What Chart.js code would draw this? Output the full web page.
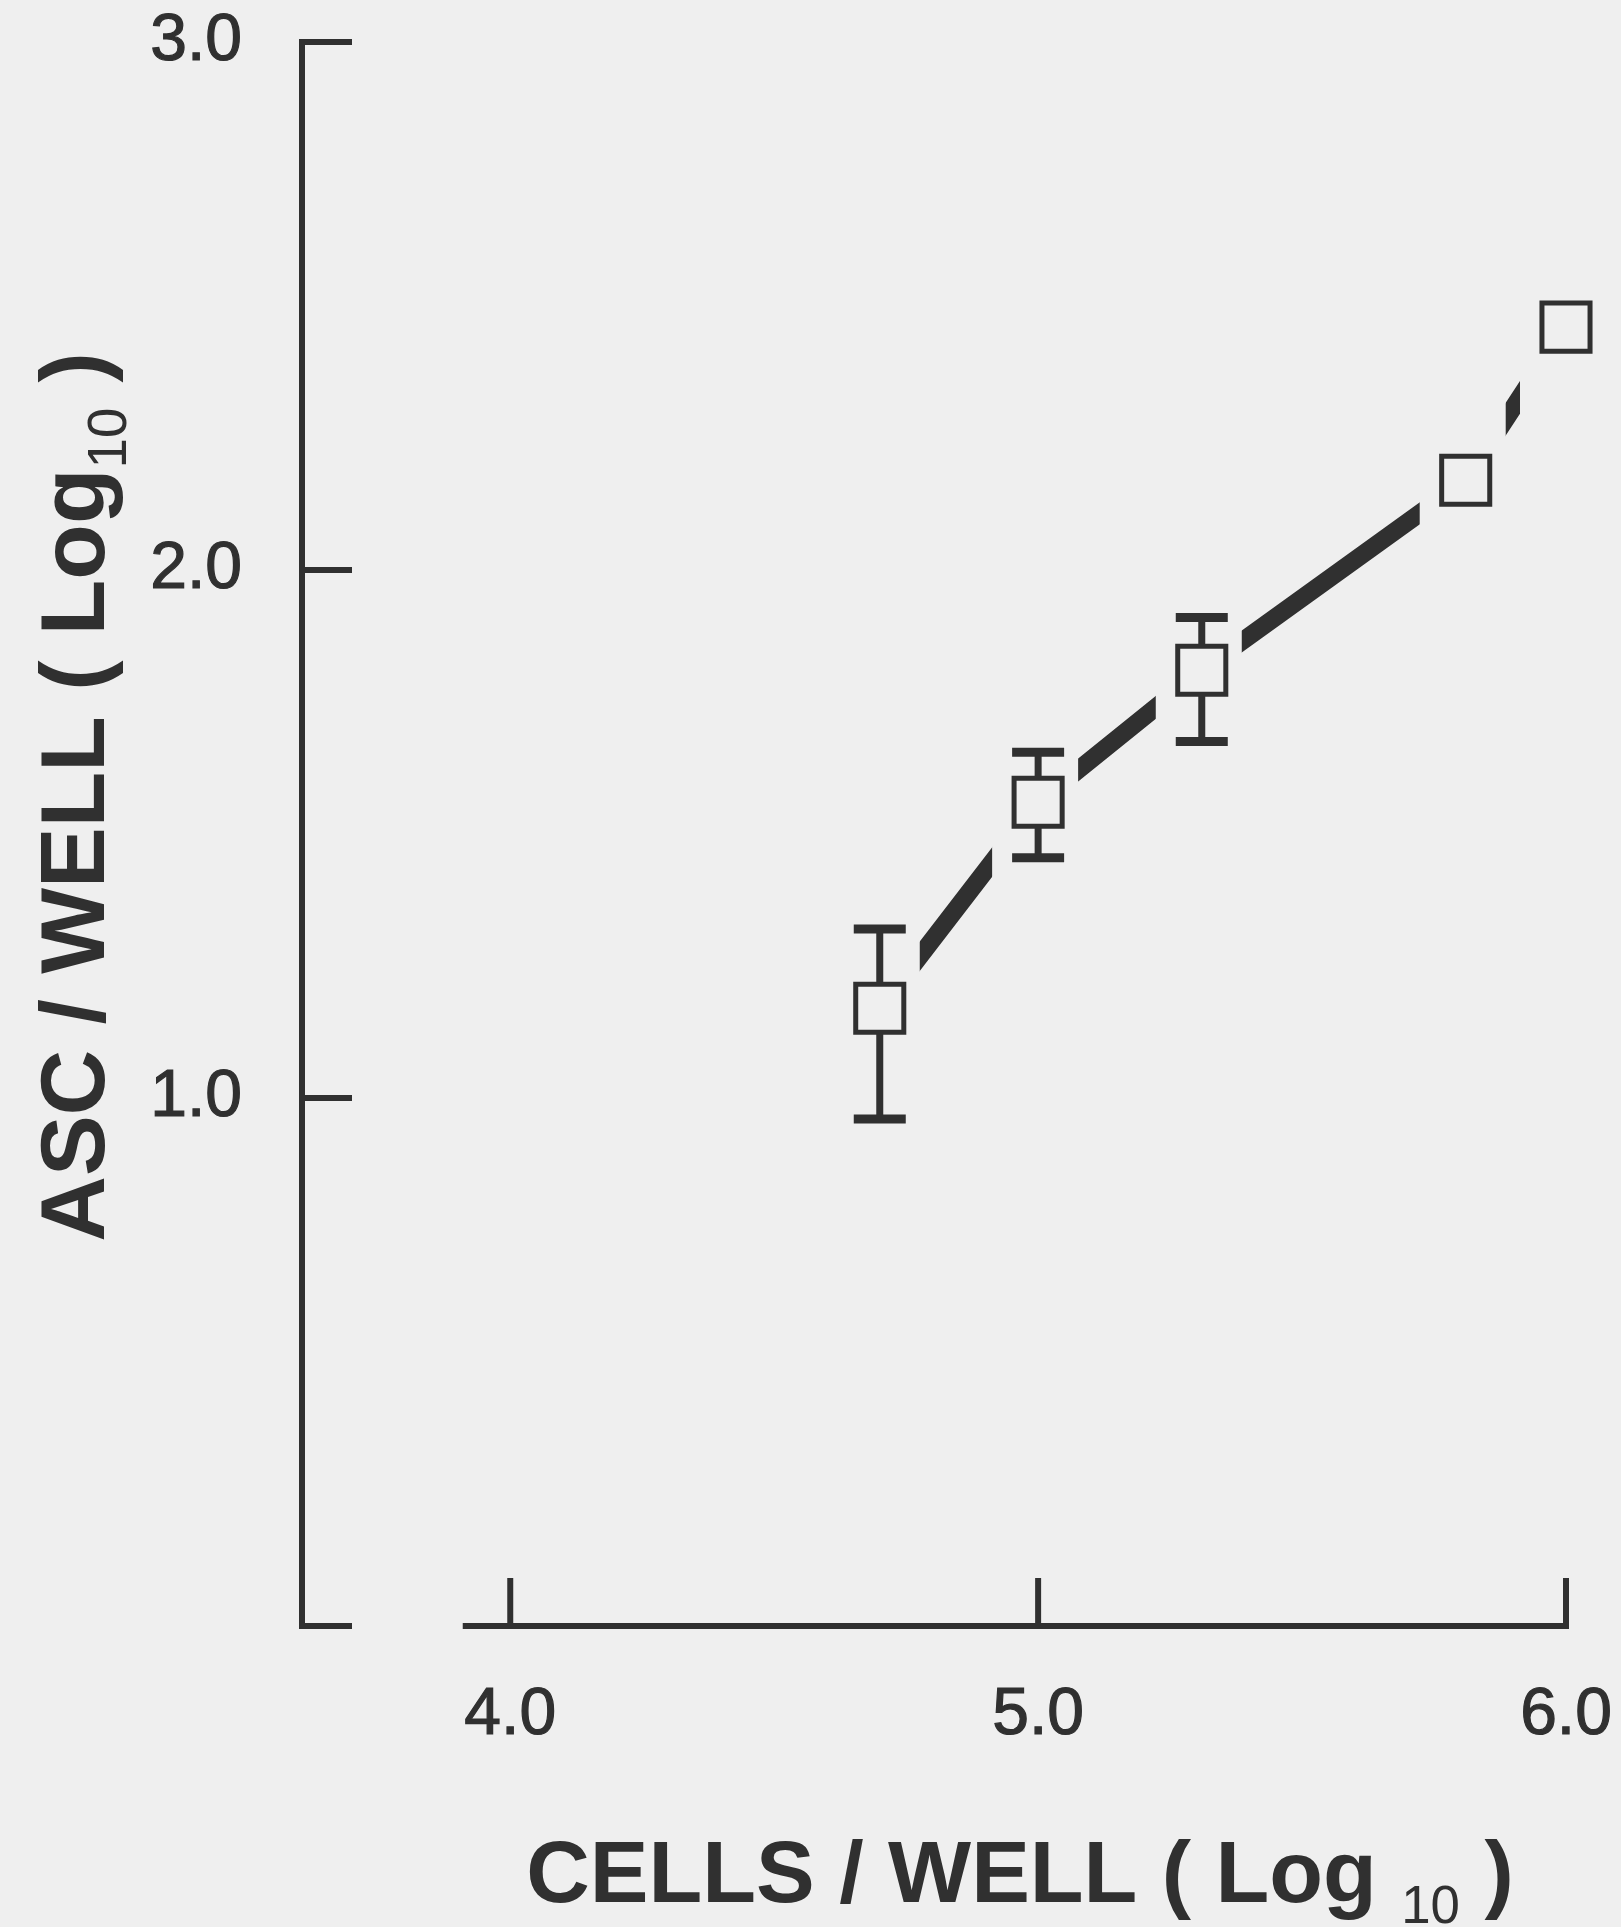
<!DOCTYPE html>
<html>
<head>
<meta charset="utf-8">
<title>ASC / well vs cells / well</title>
<script src="https://cdn.jsdelivr.net/npm/chart.js@4.4.1/dist/chart.umd.min.js"></script>
<style>
  html, body { margin: 0; padding: 0; background: #efefef; }
  #wrap { width: 1621px; height: 1927px; }
</style>
</head>
<body>
<div id="wrap"><canvas id="chart"></canvas></div>
<script>
// data (log10 values)
const cellsLog = [4.70, 5.00, 5.31, 5.81, 6.00];
const ascLog = [1.17, 1.56, 1.81, 2.17, 2.46];
const ascHigh = [1.32, 1.655, 1.91, null, null];
const ascLow = [0.96, 1.455, 1.675, null, null];
const xTicks = [4, 5, 6];
const yTicks = [0, 1, 2, 3];
const xAxisFrom = 3.91;

const INK = '#303030';
const PAPER = '#efefef';
const FONT = '"Liberation Sans", Arial, Helvetica, sans-serif';

const points = cellsLog.map((x, i) => ({ x, y: ascLog[i] }));

// cut the connecting line around each marker
const lineGaps = {
  id: 'lineGaps',
  beforeDatasetDraw(chart, args) {
    if (args.index !== 0) return;
    const { ctx, width, height } = chart;
    const xs = chart.scales.x;
    ctx.save();
    ctx.beginPath();
    ctx.rect(0, 0, width, height);
    cellsLog.forEach((v) => {
      const px = xs.getPixelForValue(v);
      ctx.rect(px - 46, 0, 86, height);
    });
    ctx.clip('evenodd');
  },
  afterDatasetDraw(chart, args) {
    if (args.index === 0) chart.ctx.restore();
  }
};

// axes in the paper style: ticks point inward, x axis starts short of the y axis
const paperAxes = {
  id: 'paperAxes',
  beforeDatasetsDraw(chart) {
    const { ctx } = chart;
    const xs = chart.scales.x, ys = chart.scales.y;
    const left = chart.chartArea.left;
    const y0 = ys.getPixelForValue(0);
    ctx.save();
    ctx.strokeStyle = INK;
    ctx.lineWidth = 6;
    ctx.lineJoin = 'miter';
    ctx.lineCap = 'butt';
    ctx.beginPath();
    ctx.moveTo(left + 50, ys.getPixelForValue(3));
    ctx.lineTo(left, ys.getPixelForValue(3));
    ctx.lineTo(left, y0);
    ctx.lineTo(left + 50, y0);
    ctx.stroke();
    yTicks.slice(1, -1).forEach((v) => {
      const py = ys.getPixelForValue(v);
      ctx.beginPath(); ctx.moveTo(left, py); ctx.lineTo(left + 50, py); ctx.stroke();
    });
    const xEnd = xs.getPixelForValue(xTicks[xTicks.length - 1]);
    ctx.beginPath();
    ctx.moveTo(xs.getPixelForValue(xAxisFrom), y0);
    ctx.lineTo(xEnd, y0);
    ctx.lineTo(xEnd, y0 - 48);
    ctx.stroke();
    xTicks.slice(0, -1).forEach((v) => {
      const px = xs.getPixelForValue(v);
      ctx.beginPath(); ctx.moveTo(px, y0); ctx.lineTo(px, y0 - 48); ctx.stroke();
    });
    ctx.restore();
  }
};

// error bars behind the open squares
const errorBars = {
  id: 'errorBars',
  beforeDatasetDraw(chart, args) {
    if (args.index !== 1) return;
    const { ctx } = chart;
    const xs = chart.scales.x, ys = chart.scales.y;
    ctx.save();
    ctx.strokeStyle = INK;
    ctx.lineCap = 'butt';
    cellsLog.forEach((v, i) => {
      if (ascHigh[i] == null) return;
      const px = xs.getPixelForValue(v);
      const hi = ys.getPixelForValue(ascHigh[i]);
      const lo = ys.getPixelForValue(ascLow[i]);
      ctx.lineWidth = 7;
      ctx.beginPath(); ctx.moveTo(px, hi); ctx.lineTo(px, lo); ctx.stroke();
      ctx.lineWidth = 9;
      ctx.beginPath();
      ctx.moveTo(px - 26, hi); ctx.lineTo(px + 26, hi);
      ctx.moveTo(px - 26, lo); ctx.lineTo(px + 26, lo);
      ctx.stroke();
    });
    ctx.restore();
  }
};

function drawRich(ctx, parts, size, cx, baseline) {
  const subSize = size * 0.6;
  const fontFor = (sub) => (sub ? `${subSize}px ${FONT}` : `bold ${size}px ${FONT}`);
  const widths = parts.map(([t, sub]) => {
    ctx.font = fontFor(sub);
    return ctx.measureText(t).width;
  });
  let x = cx - widths.reduce((a, b) => a + b, 0) / 2;
  parts.forEach(([t, sub], i) => {
    ctx.font = fontFor(sub);
    ctx.fillText(t, x, baseline + (sub ? size * 0.24 : 0));
    x += widths[i];
  });
}

const axisTitles = {
  id: 'axisTitles',
  afterDraw(chart) {
    const { ctx } = chart;
    ctx.save();
    ctx.fillStyle = INK;
    ctx.textAlign = 'left';
    ctx.textBaseline = 'alphabetic';
    drawRich(ctx, [['CELLS / WELL ( Log ', false], ['10', true], [' )', false]], 88, 1020, 1902);
    ctx.translate(104, 797);
    ctx.rotate(-Math.PI / 2);
    drawRich(ctx, [['ASC / WELL ( Log', false], ['10', true], [' )', false]], 91, 0, 0);
    ctx.restore();
  }
};

const tickFont = { family: FONT, size: 66 };

new Chart(document.getElementById('chart'), {
  type: 'scatter',
  data: {
    datasets: [
      {
        label: 'fit',
        data: points,
        showLine: true,
        borderColor: INK,
        borderWidth: 18,
        borderCapStyle: 'butt',
        tension: 0,
        pointRadius: 0,
        clip: false
      },
      {
        label: 'ASC / well',
        data: points,
        showLine: false,
        pointStyle: 'rect',
        pointRadius: 34,
        borderWidth: 5,
        borderColor: INK,
        backgroundColor: PAPER,
        clip: false
      }
    ]
  },
  options: {
    responsive: true,
    maintainAspectRatio: false,
    animation: false,
    events: [],
    layout: { padding: { top: 42, right: 55, left: 0, bottom: 0 } },
    plugins: { legend: { display: false }, tooltip: { enabled: false } },
    scales: {
      x: {
        type: 'linear',
        min: 3.6055,
        max: 6.0,
        afterBuildTicks: (s) => { s.ticks = xTicks.map((v) => ({ value: v })); },
        afterFit: (s) => { s.height = 301; s.paddingLeft = 0; s.paddingRight = 0; },
        grid: { display: false },
        border: { display: false },
        ticks: {
          autoSkip: false,
          maxRotation: 0,
          padding: 42,
          color: INK,
          textStrokeColor: INK,
          textStrokeWidth: 1.2,
          font: tickFont,
          callback: (v) => Number(v).toFixed(1)
        }
      },
      y: {
        type: 'linear',
        min: 0,
        max: 3,
        afterBuildTicks: (s) => { s.ticks = yTicks.map((v) => ({ value: v })); },
        afterFit: (s) => { s.width = 302; s.paddingTop = 0; s.paddingBottom = 0; },
        grid: { display: false },
        border: { display: false },
        ticks: {
          padding: 52,
          color: INK,
          textStrokeColor: INK,
          textStrokeWidth: 1.2,
          font: tickFont,
          callback: (v) => (v === 0 ? '' : Number(v).toFixed(1))
        }
      }
    }
  },
  plugins: [lineGaps, paperAxes, errorBars, axisTitles]
});
</script>
</body>
</html>
